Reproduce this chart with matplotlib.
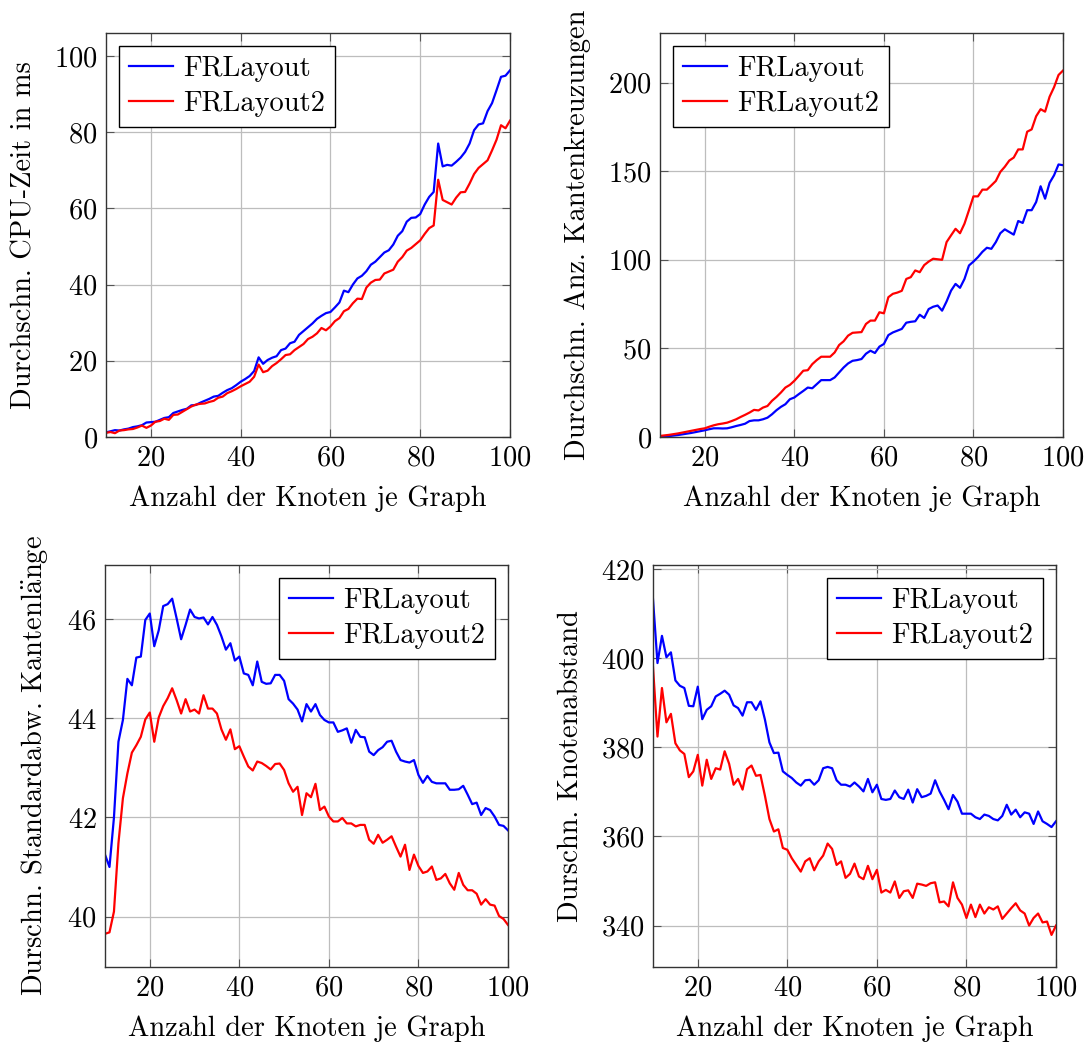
import matplotlib
matplotlib.use('Agg')
import matplotlib.pyplot as plt

plt.rcParams['font.family'] = ['cmr10', 'DejaVu Serif']
plt.rcParams['mathtext.fontset'] = 'cm'
plt.rcParams['axes.formatter.use_mathtext'] = True
plt.rcParams['font.size'] = 20.5

knoten = list(range(10, 101))

# CPU-Zeit (ms)
cpu_fr = [1.2, 1.5, 1.8, 1.7, 2.0, 2.2, 2.6, 2.8, 3.1, 3.8,
          3.9, 4.0, 4.5, 5.0, 5.2, 6.3, 6.7, 7.1, 7.4, 8.3,
          8.4, 9.0, 9.5, 10.0, 10.6, 10.8, 11.6, 12.3, 12.8, 13.6,
          14.5, 15.2, 16.0, 17.3, 20.9, 19.2, 20.2, 20.8, 21.2, 22.8,
          23.2, 24.6, 25.0, 26.8, 27.8, 28.8, 29.8, 31.0, 31.8, 32.5,
          32.8, 34.0, 35.3, 38.4, 38.0, 40.0, 41.6, 42.3, 43.5, 45.2,
          46.0, 47.2, 48.4, 49.0, 50.5, 52.8, 54.0, 56.5, 57.5, 57.6,
          58.5, 61.0, 63.0, 64.3, 77.0, 71.0, 71.4, 71.2, 72.2, 73.3,
          74.8, 77.0, 80.5, 82.0, 82.3, 85.5, 87.6, 91.0, 94.5, 94.8, 96.2]
cpu_fr2 = [1.1, 1.3, 1.0, 1.7, 1.8, 2.0, 2.1, 2.5, 3.0, 2.4,
           3.0, 4.0, 4.2, 4.8, 4.5, 5.8, 5.9, 6.6, 7.3, 8.0,
           8.5, 8.7, 8.8, 9.2, 9.5, 10.3, 10.6, 11.5, 12.0, 12.6,
           13.3, 13.9, 14.5, 15.8, 19.0, 17.0, 17.4, 18.6, 19.4, 20.4,
           21.5, 21.7, 22.8, 23.6, 24.4, 25.7, 26.3, 27.2, 28.6, 28.0,
           29.0, 30.4, 31.2, 33.0, 33.6, 35.1, 36.3, 36.2, 39.2, 40.5,
           41.2, 41.3, 42.9, 43.4, 43.9, 46.0, 47.2, 48.9, 49.6, 50.6,
           51.6, 53.3, 54.8, 55.5, 67.5, 62.2, 61.6, 61.0, 62.8, 64.2,
           64.3, 66.5, 69.0, 70.6, 71.6, 72.6, 75.2, 78.0, 81.8, 81.0, 83.0]

# Kantenkreuzungen
kreuz_fr = [0.0, 0.3, 0.5, 0.8, 1.1, 1.5, 1.9, 2.3, 2.8, 3.3,
            3.8, 4.4, 4.9, 4.9, 4.8, 4.9, 5.5, 6.2, 6.8, 7.5,
            9.0, 9.4, 9.4, 10.0, 10.9, 12.8, 15.1, 17.0, 18.5, 21.3,
            22.3, 24.2, 26.0, 27.9, 27.5, 29.8, 32.1, 32.1, 32.1, 33.6,
            36.4, 39.2, 41.5, 43.0, 43.4, 44.0, 47.0, 48.7, 47.4, 51.0,
            52.5, 57.5, 59.0, 60.0, 61.0, 64.5, 65.0, 65.3, 69.0, 67.2,
            72.2, 73.5, 74.2, 71.3, 76.5, 82.6, 86.4, 84.2, 89.2, 96.8,
            99.0, 101.5, 104.5, 106.8, 106.2, 110.0, 115.0, 117.2, 115.7, 114.2,
            121.9, 120.8, 128.0, 128.0, 132.6, 141.5, 134.5, 143.4, 147.7, 153.8, 153.4]
kreuz_fr2 = [0.6, 0.9, 1.2, 1.6, 2.0, 2.5, 3.0, 3.5, 4.0, 4.5,
             4.9, 5.8, 6.6, 7.2, 7.6, 8.1, 9.0, 10.0, 11.3, 12.5,
             13.8, 15.3, 15.0, 16.6, 17.5, 20.4, 22.6, 25.1, 27.9, 29.4,
             31.7, 34.5, 37.4, 37.7, 41.1, 43.4, 45.3, 45.3, 45.3, 47.7,
             51.9, 54.0, 57.2, 58.8, 59.0, 59.2, 63.8, 65.7, 65.7, 70.4,
             69.8, 78.9, 80.8, 81.5, 82.5, 89.2, 90.2, 94.0, 93.0, 97.0,
             99.0, 100.6, 100.3, 100.0, 110.0, 113.8, 117.5, 115.0, 120.4, 128.0,
             135.8, 135.8, 139.6, 139.6, 142.0, 144.5, 149.6, 152.5, 156.0, 157.7,
             162.3, 162.3, 172.3, 173.6, 181.0, 185.0, 183.6, 192.0, 197.4, 204.3, 206.8]

# Standardabweichung Kantenlaenge
std_fr = [41.25, 41.0, 42.0, 43.53, 43.97, 44.8, 44.67, 45.23, 45.25, 45.99,
          46.12, 45.46, 45.78, 46.27, 46.31, 46.42, 46.02, 45.6, 45.89, 46.2,
          46.05, 46.02, 46.04, 45.9, 46.05, 45.89, 45.66, 45.39, 45.52, 45.17,
          45.25, 44.91, 44.88, 44.67, 45.15, 44.74, 44.7, 44.71, 44.88, 44.88,
          44.76, 44.39, 44.3, 44.18, 43.94, 44.29, 44.14, 44.29, 44.07, 43.97,
          43.92, 43.92, 43.73, 43.76, 43.8, 43.51, 43.77, 43.63, 43.62, 43.33,
          43.26, 43.36, 43.42, 43.53, 43.55, 43.33, 43.16, 43.13, 43.11, 43.16,
          42.86, 42.7, 42.84, 42.72, 42.69, 42.69, 42.69, 42.56, 42.56, 42.57,
          42.64, 42.46, 42.27, 42.3, 42.05, 42.19, 42.15, 42.02, 41.85, 41.83, 41.74]
std_fr2 = [39.65, 39.68, 40.1, 41.48, 42.39, 42.89, 43.31, 43.46, 43.63, 43.98,
           44.12, 43.53, 44.02, 44.25, 44.41, 44.61, 44.37, 44.1, 44.39, 44.14,
           44.18, 44.1, 44.47, 44.2, 44.2, 44.1, 43.78, 43.57, 43.78, 43.38,
           43.44, 43.23, 43.03, 42.95, 43.13, 43.1, 43.04, 42.97, 43.08, 43.09,
           42.96, 42.69, 42.52, 42.62, 42.05, 42.49, 42.41, 42.68, 42.15, 42.22,
           42.02, 41.92, 41.92, 41.99, 41.88, 41.88, 41.82, 41.85, 41.85, 41.55,
           41.47, 41.65, 41.49, 41.55, 41.62, 41.41, 41.21, 41.45, 40.94, 41.25,
           41.02, 40.88, 40.91, 41.01, 40.74, 40.77, 40.86, 40.67, 40.54, 40.88,
           40.64, 40.53, 40.53, 40.46, 40.24, 40.35, 40.24, 40.22, 40.01, 39.95, 39.83]

# Knotenabstand
abst_fr = [413.2, 398.9, 405.0, 400.2, 401.3, 395.0, 393.8, 393.3, 389.3, 389.2,
           393.6, 386.3, 388.4, 389.2, 391.4, 392.0, 392.7, 391.8, 389.4, 388.8,
           387.1, 390.1, 390.1, 388.4, 390.3, 386.2, 381.1, 378.7, 378.8, 374.6,
           373.8, 373.1, 372.1, 371.4, 372.6, 372.7, 371.6, 372.6, 375.3, 375.6,
           375.3, 372.6, 371.6, 371.6, 371.2, 372.1, 371.2, 370.1, 372.9, 369.9,
           371.6, 368.4, 368.2, 368.4, 370.3, 368.8, 368.4, 370.5, 367.6, 370.6,
           368.8, 369.1, 369.6, 372.6, 370.1, 368.2, 366.1, 369.3, 367.8, 365.1,
           365.1, 365.1, 364.3, 363.9, 364.9, 364.6, 363.9, 363.6, 364.6, 367.1,
           364.9, 366.0, 364.3, 365.4, 365.1, 362.8, 365.6, 363.4, 362.8, 362.1, 363.4]
abst_fr2 = [398.0, 382.4, 393.3, 385.6, 387.5, 380.9, 379.3, 378.5, 373.3, 374.6,
            378.3, 371.4, 377.2, 372.9, 375.3, 375.0, 379.1, 376.3, 371.6, 372.9,
            370.5, 375.1, 375.9, 373.6, 373.8, 369.1, 363.9, 361.1, 361.6, 357.4,
            357.0, 355.1, 353.6, 352.1, 354.4, 355.1, 352.4, 354.4, 355.7, 358.4,
            357.2, 353.6, 354.4, 350.7, 351.6, 353.9, 351.0, 350.4, 353.4, 350.4,
            352.5, 347.4, 348.0, 347.4, 349.9, 346.2, 347.7, 347.9, 346.2, 349.4,
            349.2, 348.9, 349.5, 349.7, 345.2, 345.4, 344.3, 349.7, 346.2, 344.7,
            341.7, 344.7, 341.9, 344.7, 342.7, 344.1, 343.6, 344.3, 341.5, 342.7,
            343.9, 345.0, 343.4, 342.7, 340.0, 341.7, 342.7, 340.7, 340.9, 337.9, 340.0]

W, H = 1091, 1046
fig = plt.figure(figsize=(W / 100, H / 100), dpi=100)


def make_ax(left, top, right, bottom):
    return fig.add_axes([left / W, 1 - bottom / H, (right - left) / W, (bottom - top) / H])


def panel(ax, y1, y2, ylabel, ylim, yticks, legend_loc):
    ax.plot(knoten, y1, color='#0000ff', lw=1.6, label='FRLayout')
    ax.plot(knoten, y2, color='#ff0000', lw=1.6, label='FRLayout2')
    ax.set_xlim(10, 100)
    ax.set_ylim(*ylim)
    ax.set_xticks([20, 40, 60, 80, 100])
    ax.set_yticks(yticks)
    ax.grid(True, color='#bdbdbd', lw=0.9)
    ax.set_axisbelow(True)
    ax.tick_params(direction='in', top=True, right=True, length=6, width=0.8,
                   color='#555555', pad=6)
    for s in ax.spines.values():
        s.set_linewidth(1.0)
        s.set_color('#333333')
    ax.set_xlabel('Anzahl der Knoten je Graph', labelpad=10)
    ax.set_ylabel(ylabel, labelpad=12)
    leg = ax.legend(loc=legend_loc, fancybox=False, framealpha=1,
                    edgecolor='black', handlelength=1.55, borderpad=0.35,
                    labelspacing=0.3, handletextpad=0.35, borderaxespad=0.45)
    leg.get_frame().set_linewidth(1.0)


ax1 = make_ax(106, 33, 510, 437)
panel(ax1, cpu_fr, cpu_fr2, 'Durchschn. CPU-Zeit in ms', (0, 106),
      [0, 20, 40, 60, 80, 100], 'upper left')

ax2 = make_ax(660, 33, 1063, 437)
panel(ax2, kreuz_fr, kreuz_fr2, 'Durchschn. Anz. Kantenkreuzungen', (0, 228),
      [0, 50, 100, 150, 200], 'upper left')

ax3 = make_ax(105, 565, 508, 967)
panel(ax3, std_fr, std_fr2, r'Durschn. Standardabw. Kantenl$\ddot{\mathrm{a}}$nge',
      (38.98, 47.1), [40, 42, 44, 46], 'upper right')

ax4 = make_ax(653, 565, 1056, 967)
panel(ax4, abst_fr, abst_fr2, 'Durschn. Knotenabstand', (330.7, 420.9),
      [340, 360, 380, 400, 420], 'upper right')

fig.savefig('out.png', dpi=100)
